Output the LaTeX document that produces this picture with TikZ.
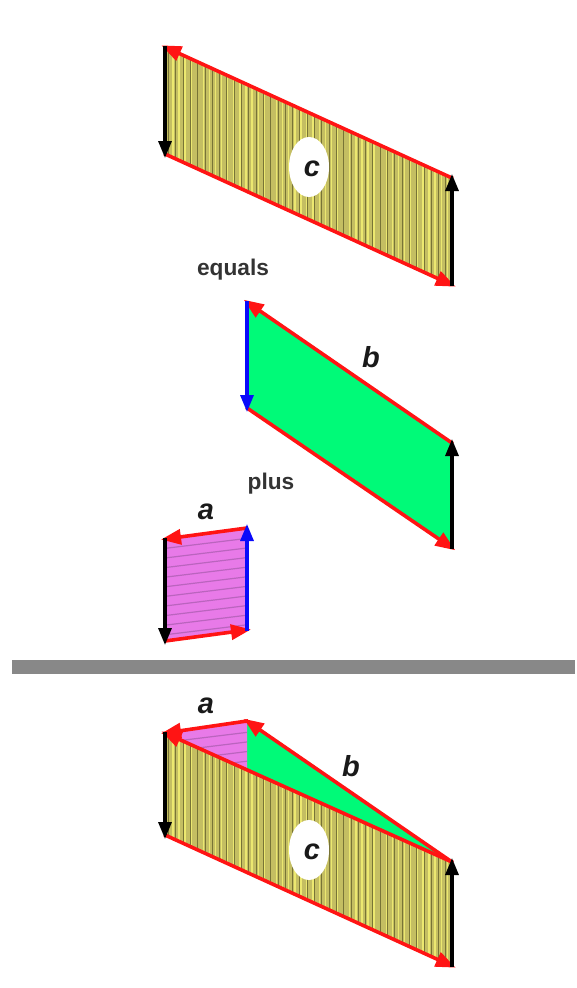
\documentclass[tikz,border=0pt]{standalone}
\usepackage{fontspec}
\setmainfont{Liberation Sans}
\usetikzlibrary{arrows.meta,shapes.geometric}
\definecolor{olivebase}{RGB}{196,190,98}
\definecolor{stripelight}{RGB}{236,232,112}
\definecolor{stripedark}{RGB}{120,116,54}
\definecolor{hatchlilac}{RGB}{232,122,232}
\definecolor{hatchline}{RGB}{186,100,190}
\definecolor{sidegreen}{RGB}{0,250,120}
\definecolor{barred}{RGB}{255,20,20}
\definecolor{bargray}{RGB}{136,136,136}
\definecolor{sideblue}{RGB}{10,10,250}
\tikzset{
  x=1pt,y=-1pt,
  vec/.style={line width=3.2pt,-{Triangle[length=17pt,width=13pt]},shorten >=-4pt,shorten <=-1pt},
  redvec/.style={vec,line width=3.6pt,-{Triangle[length=20pt,width=15pt]},draw=barred},
  blackvec/.style={vec,draw=black},
  bluevec/.style={vec,draw=sideblue},
  lbl/.style={font=\bfseries\itshape\fontsize{29}{29}\selectfont,inner sep=0pt,text=black!90},
  word/.style={font=\bfseries\fontsize{22.7}{23}\selectfont,text=black!80,inner sep=0pt},
  blob/.style={ellipse,fill=white,minimum width=40pt,minimum height=60pt,inner sep=0pt},
}
\newcommand{\yellowstripes}[2]{%
  \fill[olivebase] (164,#1) rectangle (453,#2);
  \foreach \k in {0,...,47}{\fill[stripelight] ({166+6.1*\k},#1) rectangle ({167.4+6.1*\k},#2);}
  \foreach \k in {0,...,39}{\fill[stripedark] ({168+7.3*\k},#1) rectangle ({168.9+7.3*\k},#2);}
}
\begin{document}
\begin{tikzpicture}
\useasboundingbox (0,0) rectangle (577,988);
% top parallelogram
\coordinate (ctl) at (165,47); \coordinate (cbl) at (165,154);
\coordinate (ctr) at (452,178); \coordinate (cbr) at (452,285);
\begin{scope}
\clip (ctl) -- (ctr) -- (cbr) -- (cbl) -- cycle;
\yellowstripes{40}{290}
\end{scope}
\node[blob] (cblob) at (309,167) {};
\node[lbl] (clabel) at (312,169) {c};
\draw[redvec] (ctr) -- (ctl);
\draw[redvec] (cbl) -- (cbr);
\draw[blackvec] (ctl) -- (cbl);
\draw[blackvec] (cbr) -- (ctr);
\node[word] (equals) at (233,270) {equals};
% green
\coordinate (btl) at (247,302); \coordinate (bbl) at (247,408);
\coordinate (btr) at (452,443); \coordinate (bbr) at (452,548);
\fill[sidegreen] (btl) -- (btr) -- (bbr) -- (bbl) -- cycle;
\draw[redvec] (btr) -- (btl);
\draw[redvec] (bbl) -- (bbr);
\draw[bluevec] (btl) -- (bbl);
\draw[blackvec] (bbr) -- (btr);
\node[lbl] (blabel) at (371,357) {b};
\node[word] (plus) at (271,484) {plus};
% lilac
\coordinate (atl) at (165,539); \coordinate (abl) at (165,641);
\coordinate (atr) at (247,528); \coordinate (abr) at (247,630);
\begin{scope}
\clip (atl) -- (atr) -- (abr) -- (abl) -- cycle;
\fill[hatchlilac] (160,520) rectangle (250,650);
\foreach \k in {0,...,10}{\draw[hatchline,line width=1.2pt] (160,{549+9.6*\k}) -- (250,{538+9.6*\k});}
\end{scope}
\draw[redvec] (atr) -- (atl);
\draw[redvec] (abl) -- (abr);
\draw[blackvec] (atl) -- (abl);
\draw[bluevec] (abr) -- (atr);
\node[lbl] (alabel) at (206,512) {a};
% bar
\fill[bargray] (12,660) rectangle (575,674);
% bottom figure
\coordinate (dtl) at (165,733); \coordinate (dbl) at (165,835);
\coordinate (dtr) at (452,862); \coordinate (dbr) at (452,966);
\coordinate (dap) at (247,721); \coordinate (dmid) at (247,770);
\fill[sidegreen] (dap) -- (dtr) -- (dmid) -- cycle;
\begin{scope}
\clip (dtl) -- (dap) -- (dmid) -- cycle;
\fill[hatchlilac] (160,715) rectangle (250,775);
\foreach \k in {0,...,5}{\draw[hatchline,line width=1.2pt] (160,{743+9.6*\k}) -- (250,{732+9.6*\k});}
\end{scope}
\begin{scope}
\clip (dtl) -- (dtr) -- (dbr) -- (dbl) -- cycle;
\yellowstripes{725}{975}
\end{scope}
\node[blob] (dblob) at (309,850) {};
\node[lbl] (dlabel) at (312,852) {c};
\draw[redvec] (dtr) -- (dtl);
\draw[redvec] (dap) -- (dtl);
\draw[redvec] (dtr) -- (dap);
\draw[redvec] (dbl) -- (dbr);
\draw[blackvec] (dtl) -- (dbl);
\draw[blackvec] (dbr) -- (dtr);
\node[lbl] (alabel2) at (206,706) {a};
\node[lbl] (blabel2) at (351,766) {b};
\end{tikzpicture}
\end{document}
